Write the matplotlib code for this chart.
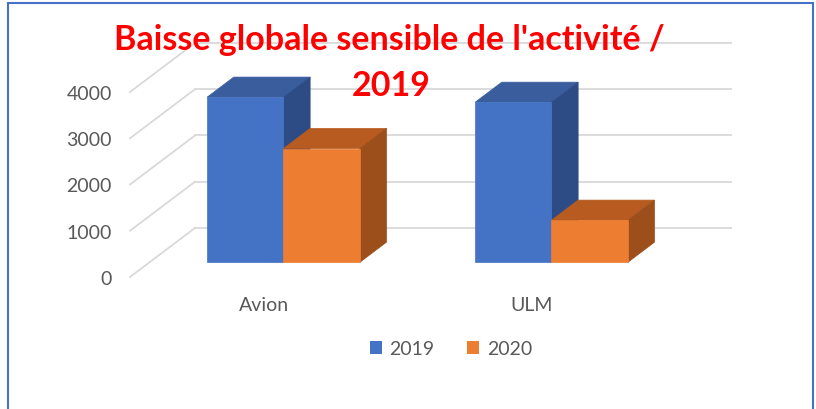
import matplotlib.pyplot as plt
from matplotlib.patches import Polygon, Rectangle, Patch

categories = ['Avion', 'ULM']
series = ['2019', '2020']
values_2019 = [3570, 3460]
values_2020 = [2460, 910]
y_ticks = [0, 1000, 2000, 3000, 4000]
title_lines = ["Baisse globale sensible de l'activité /", "2019"]

# front / top / side shades for each series
shades = {
    '2019': ('#4472C4', '#3A5D9E', '#2D4C85'),
    '2020': ('#ED7D31', '#B75B20', '#9C4F1B'),
}

# oblique projection of the chart depth, in data units
depth_dx = 0.2425
depth_dy = 1060
bar_w = 0.285
bar_d0, bar_d1 = 0.3, 0.71

grey = '#595959'
grid_c = '#D9D9D9'


def shift(x, y, d):
    return x + d * depth_dx, y + d * depth_dy


def draw_prism(ax, x0, h, cols):
    front, top, side = cols
    x1 = x0 + bar_w
    f = [shift(x0, 0, bar_d0), shift(x1, 0, bar_d0), shift(x1, h, bar_d0), shift(x0, h, bar_d0)]
    t = [shift(x0, h, bar_d0), shift(x1, h, bar_d0), shift(x1, h, bar_d1), shift(x0, h, bar_d1)]
    s = [shift(x1, 0, bar_d0), shift(x1, 0, bar_d1), shift(x1, h, bar_d1), shift(x1, h, bar_d0)]
    for pts, c in ((t, top), (s, side), (f, front)):
        ax.add_patch(Polygon(pts, closed=True, facecolor=c, edgecolor=c, lw=0.5, clip_on=False, zorder=3))


fig = plt.figure(figsize=(8.16, 4.10), dpi=100)
ax = fig.add_axes([130 / 816, 132 / 410, 536 / 816, 185 / 410])
ax.set_xlim(-0.5, 1.5)
ax.set_ylim(0, 4000)
for sp in ax.spines.values():
    sp.set_visible(False)

# walls: side wall diagonals and back wall lines
for v in y_ticks:
    ax.plot([-0.5, -0.5 + depth_dx], [v, v + depth_dy], color=grid_c, lw=1.3, clip_on=False, zorder=1)
    ax.plot([-0.5 + depth_dx, 1.5 + depth_dx], [v + depth_dy, v + depth_dy], color=grid_c, lw=1.3,
            clip_on=False, zorder=1)

for i, cat in enumerate(categories):
    draw_prism(ax, i - bar_w, values_2019[i], shades['2019'])
    draw_prism(ax, i, values_2020[i], shades['2020'])

ax.set_yticks(y_ticks)
ax.set_yticklabels([str(v) for v in y_ticks])
ax.set_xticks(range(len(categories)))
ax.set_xticklabels(categories)
ax.tick_params(axis='y', length=0, pad=13, labelsize=14, labelcolor=grey)
ax.tick_params(axis='x', length=0, pad=14, labelsize=14, labelcolor=grey)
for lab in ax.get_xticklabels() + ax.get_yticklabels():
    lab.set_fontfamily('Lato')

handles = [Patch(facecolor=shades[s][0], edgecolor='none', label=s) for s in series]
leg = fig.legend(handles=handles, loc='center', bbox_to_anchor=(451 / 816, 1 - 350 / 410), ncol=2,
                 frameon=False, handlelength=0.6, handleheight=0.6, handletextpad=0.4,
                 columnspacing=1.7, prop={'family': 'Lato', 'size': 14})
for t in leg.get_texts():
    t.set_color(grey)

# title, two lines placed on their baselines
fig.text(389 / 816, 1 - 50 / 410, title_lines[0], ha='center', va='baseline',
         color='#FF0000', fontsize=24.5, fontweight='bold', family='Lato', zorder=5)
fig.text(391 / 816, 1 - 96 / 410, title_lines[1], ha='center', va='baseline',
         color='#FF0000', fontsize=24.5, fontweight='bold', family='Lato', zorder=5)

fig.patches.append(Rectangle((8 / 816, -0.05), 805 / 816, 1.04, transform=fig.transFigure,
                             fill=False, edgecolor='#4472C4', lw=1.5))

fig.savefig('out.png', dpi=100)
